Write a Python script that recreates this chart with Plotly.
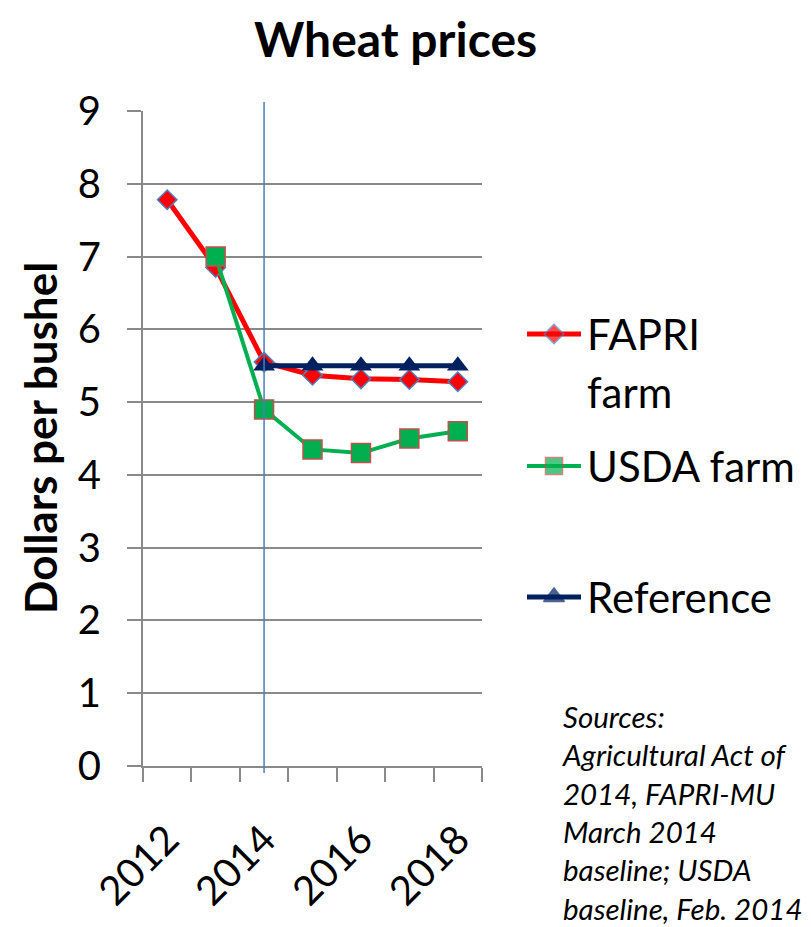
import plotly.graph_objects as go

# ---- data ----
years = [2012, 2013, 2014, 2015, 2016, 2017, 2018]
fapri_farm = [7.78, 6.85, 5.55, 5.37, 5.32, 5.31, 5.28]
usda_years = [2013, 2014, 2015, 2016, 2017, 2018]
usda_farm = [7.0, 4.9, 4.35, 4.3, 4.5, 4.6]
ref_years = [2014, 2015, 2016, 2017, 2018]
reference = [5.5, 5.5, 5.5, 5.5, 5.5]
series_names = ["FAPRI", "farm", "USDA farm", "Reference"]
title_text = "Wheat prices"
y_title = "Dollars per bushel"
sources_text = ("Sources:<br>Agricultural Act of<br>2014, FAPRI-MU<br>"
                "March 2014<br>baseline; USDA<br>baseline, Feb. 2014")

# page body has an 8px margin; the figure sits at (8, 8)
OFF = 8
W, H = 811 - OFF, 927 - OFF
FONT = "Lato"
GRID = "#898989"
RED = "#FF0000"
GREEN = "#00B050"
NAVY = "#002060"


def px(x):
    return (x - OFF) / W


def py(y):
    return 1 - (y - OFF) / H


fig = go.Figure()

fig.add_trace(go.Scatter(
    x=years, y=fapri_farm, mode="lines+markers",
    line=dict(color=RED, width=5),
    marker=dict(symbol="diamond", size=15, color=RED,
                line=dict(color="#4F81BD", width=1.5)),
    showlegend=False))
fig.add_trace(go.Scatter(
    x=usda_years, y=usda_farm, mode="lines+markers",
    line=dict(color=GREEN, width=4),
    marker=dict(symbol="square", size=19, color=GREEN,
                line=dict(color="#C0504D", width=1.5)),
    showlegend=False))
fig.add_trace(go.Scatter(
    x=ref_years, y=reference, mode="lines+markers",
    line=dict(color=NAVY, width=5),
    marker=dict(symbol="triangle-up", size=19, color=NAVY),
    showlegend=False))

# ---- manual legend on a pixel-space overlay axis ----
leg = [
    (334, RED, 5, "diamond", 15, RED, "#4F81BD"),
    (466, GREEN, 4, "square", 17, GREEN, "#C0504D"),
    (597, NAVY, 5, "triangle-up", 18, NAVY, NAVY),
]
for (yy, lc, lw, sym, sz, mc, mlc) in leg:
    fig.add_trace(go.Scatter(
        x=[527 - OFF, 554 - OFF, 581 - OFF], y=[yy - OFF] * 3,
        xaxis="x2", yaxis="y2",
        mode="lines+markers", line=dict(color=lc, width=lw),
        marker=dict(symbol=sym, size=[0, sz, 0], color=mc,
                    line=dict(color=mlc, width=1.5)),
        showlegend=False, hoverinfo="skip"))

legend_text_pos = [(series_names[0], 334), (series_names[1], 392),
                   (series_names[2], 466), (series_names[3], 597)]

annotations = [
    dict(text="<b>" + title_text + "</b>", x=px(395), y=py(38),
         xref="paper", yref="paper", showarrow=False,
         xanchor="center", yanchor="middle",
         font=dict(family=FONT, size=48, color="black")),
    dict(text="<b>" + y_title + "</b>", x=px(40), y=py(438),
         xref="paper", yref="paper", showarrow=False, textangle=-90,
         xanchor="center", yanchor="middle",
         font=dict(family=FONT, size=44, color="black")),
    dict(text="<i>" + sources_text + "</i>", x=px(560), y=py(697),
         xref="paper", yref="paper", showarrow=False, align="left",
         xanchor="left", yanchor="top",
         font=dict(family=FONT, size=29.5, color="black")),
]
for txt, yy in legend_text_pos:
    annotations.append(dict(text=txt, x=px(585), y=py(yy), xref="paper",
                            yref="paper", showarrow=False, xanchor="left",
                            yanchor="middle",
                            font=dict(family=FONT, size=42, color="black")))

fig.update_layout(
    width=W, height=H,
    margin=dict(l=0, r=0, t=0, b=0, autoexpand=False),
    paper_bgcolor="white", plot_bgcolor="rgba(0,0,0,0)",
    font=dict(family=FONT, color="black"),
    annotations=annotations,
    xaxis=dict(
        domain=[px(143), px(482)], range=[2011.5, 2018.5],
        tick0=2012, dtick=2, ticks="outside", ticklen=14,
        tickcolor="rgba(0,0,0,0)", tickangle=-45,
        tickfont=dict(family=FONT, size=40, color="black"),
        ticklabelstandoff=18, automargin=False,
        minor=dict(ticks="outside", ticklen=14, tick0=2011.5, dtick=1,
                   tickcolor=GRID, tickwidth=2, showgrid=False),
        showline=True, linecolor=GRID, linewidth=2, showgrid=False,
        zeroline=False, anchor="y"),
    yaxis=dict(
        domain=[py(766), py(111)], range=[0, 9], dtick=1,
        ticks="outside", ticklen=14, tickcolor=GRID, tickwidth=2,
        tickfont=dict(family=FONT, size=40, color="black"),
        ticklabelstandoff=18, automargin=False,
        showline=True, linecolor=GRID, linewidth=2,
        showgrid=True, gridcolor=GRID, gridwidth=2, zeroline=False,
        anchor="x"),
    xaxis2=dict(domain=[0, 1], range=[0, W], visible=False, anchor="y2",
                fixedrange=True, automargin=False),
    yaxis2=dict(domain=[0, 1], range=[H, 0], visible=False, anchor="x2",
                fixedrange=True, automargin=False),
    shapes=[dict(type="line", xref="x", yref="paper", x0=2014, x1=2014,
                 y0=py(773), y1=py(102),
                 line=dict(color="#4A7EBB", width=1.5))],
)

fig.write_html("out.html")
